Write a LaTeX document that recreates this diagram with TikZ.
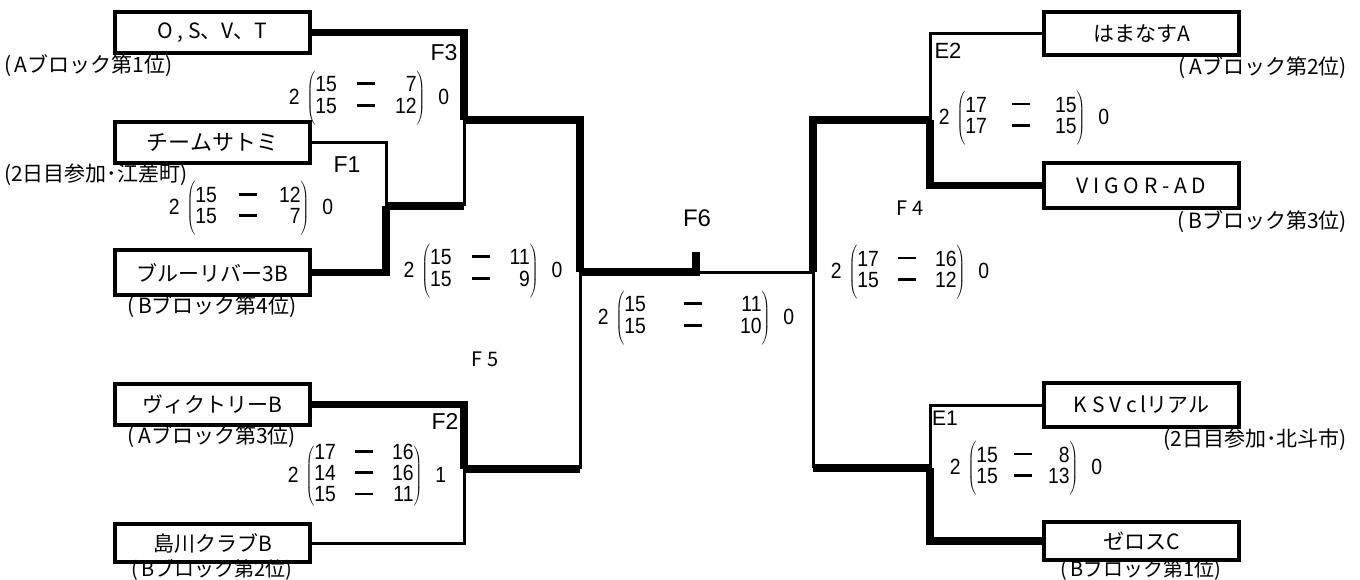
\documentclass[tikz,border=0pt]{standalone}
\usepackage{fontspec}
\setmainfont{Liberation Sans}
\newfontfamily\jpfont{Noto Sans CJK JP}
\newfontfamily\scorefont[FakeStretch=0.88]{Liberation Sans}
\usetikzlibrary{positioning}
\newcommand{\sdash}{\rule[0.3em]{18pt}{2.8pt}}
\newcommand{\scoreset}[4]{#2\hspace{7pt}{\fontsize{24}{20}\selectfont$\left(\vcenter{\hbox{\fontsize{22}{20}\selectfont\setlength{\tabcolsep}{#1}\begin{tabular}{@{}r c r@{}}#3\end{tabular}}}\vcenter{\hbox{\rule{0pt}{54pt}}}\right)$}\hspace{13pt}#4}
\tikzset{
  teambox/.style={
    rectangle, draw, line width=4pt, minimum width=195pt, minimum height=41pt,
    inner sep=0pt, font=\jpfont\fontsize{21}{24}\selectfont
  },
  blocklabel/.style={font=\jpfont\fontsize{21}{24}\selectfont, inner sep=0pt},
  roundlabel/.style={font=\fontsize{23}{26}\selectfont, inner sep=0pt},
  roundlabelsm/.style={font=\jpfont\fontsize{20}{22}\selectfont, inner sep=0pt},
  scorelabel/.style={font=\scorefont\fontsize{22}{20}\selectfont, inner sep=0pt},
  winline/.style={line width=7.5pt},
  loseline/.style={line width=3pt},
}
\begin{document}
\begin{tikzpicture}[x=1pt, y=-1pt]
    \useasboundingbox (0,0) rectangle (1360,579);
    % teams, left half
    \node[teambox] (osvt) at (212.5,32.5) {O , S、V、T};
    \node[teambox, font=\jpfont\fontsize{22}{24}\selectfont] (satomi) at (212.5,142.5) {チームサトミ};
    \node[teambox, minimum height=45pt] (blue) at (212.5,272.5) {ブルーリバー3B};
    \node[teambox] (victory) at (212.5,404.5) {ヴィクトリーB};
    \node[teambox, minimum height=38pt] (shima) at (212.5,543) {島川クラブB};
    % teams, right half
    \node[teambox, minimum height=43pt] (hamanasu) at (1141.5,33.5) {はまなすA};
    \node[teambox, minimum height=45pt] (vigor) at (1141.5,185.5) {V I G O R - A D};
    \node[teambox, minimum height=44pt] (ksv) at (1141.5,405) {K S V c\,lリアル};
    \node[teambox, minimum height=38pt] (zeros) at (1141.5,541) {ゼロスC};
    % block places
    \node[blocklabel, anchor=west] (osvtpl) at (4,66) {(\,Aブロック第1位)};
    \node[blocklabel, anchor=west] (satomipl) at (4,175) {(2日目参加･江差町)};
    \node[blocklabel] (bluepl) at (212,307) {(\,Bブロック第4位)};
    \node[blocklabel] (victorypl) at (212,437) {(\,Aブロック第3位)};
    \node[blocklabel, font=\jpfont\fontsize{20}{22}\selectfont] (shimapl) at (212,570) {(\,Bブロック第2位)};
    \node[blocklabel, anchor=east] (hamanasupl) at (1347,68) {(\,Aブロック第2位)};
    \node[blocklabel, anchor=east] (vigorpl) at (1347,222) {(\,Bブロック第3位)};
    \node[blocklabel, anchor=east] (ksvpl) at (1347,440) {(2日目参加･北斗市)};
    \node[blocklabel, font=\jpfont\fontsize{20}{22}\selectfont] (zerospl) at (1141,570) {(\,Bブロック第1位)};
    % junctions
    \coordinate (f1) at (386,206);
    \coordinate (f3) at (464,120);
    \coordinate (f2) at (464,469);
    \coordinate (f5) at (580,272);
    \coordinate (f6) at (696,272);
    \coordinate (f6top) at (696,252);
    \coordinate (f4) at (813,272);
    \coordinate (e2) at (930,120);
    \coordinate (e1) at (930,468);
    % left bracket
    \draw[loseline] (satomi.east) -| (f1);
    \draw[winline] (blue.east) -| (f1);
    \draw[winline] (f1) -- (f1 -| f3);
    \draw[loseline] (f1 -| f3) -- (f3);
    \draw[winline] (osvt.east) -| (f3);
    \draw[winline] (f3) -| (f5);
    \draw[winline] (victory.east) -| (f2);
    \draw[loseline] (shima.east) -| (f2);
    \draw[winline] (f2) -- (f2 -| f5);
    \draw[loseline] (f2 -| f5) -- (f5);
    \draw[winline] (f5) -- (f6) -- (f6top);
    % right bracket
    \draw[loseline] (f6) -- (f4);
    \draw[loseline] (hamanasu.west) -| (e2);
    \draw[winline] (vigor.west) -| (e2);
    \draw[winline] (e2) -| (f4);
    \draw[loseline] (ksv.west) -| (e1);
    \draw[winline] (zeros.west) -| (e1);
    \draw[winline] (e1) -- (e1 -| f4);
    \draw[loseline] (e1 -| f4) -- (f4);
    % round names
    \node[roundlabel] (f3lbl) at (444,53) {F3};
    \node[roundlabel] (f1lbl) at (347,165) {F1};
    \node[roundlabel] (f2lbl) at (445,421) {F2};
    \node[roundlabel, font=\fontsize{24}{26}\selectfont] (f6lbl) at (697,218) {F6};
    \node[roundlabelsm] (f5lbl) at (485,359) {F 5};
    \node[roundlabelsm] (f4lbl) at (910,208) {F 4};
    \node[roundlabel, font=\fontsize{22}{24}\selectfont] (e2lbl) at (948,51) {E2};
    \node[roundlabel, font=\fontsize{21}{24}\selectfont] (e1lbl) at (945,418) {E1};
    % scores
    \node[scorelabel] (f3sc) at (369,98) {\scoreset{10pt}{2}{15 & \sdash & 7\\ 15 & \sdash & 12}{0}};
    \node[scorelabel] (f1sc) at (251,208) {\scoreset{11pt}{2}{15 & \sdash & 12\\ 15 & \sdash & 7}{0}};
    \node[scorelabel] (f2sc) at (367,476) {\scoreset{9.5pt}{2}{17 & \sdash & 16\\ 14 & \sdash & 16\\ 15 & \sdash & 11}{1}};
    \node[scorelabel] (f5sc) at (483,271) {\scoreset{10pt}{2}{15 & \sdash & 11\\ 15 & \sdash & 9}{0}};
    \node[scorelabel] (f6sc) at (696,318) {\scoreset{19pt}{2}{15 & \sdash & 11\\ 15 & \sdash & 10}{0}};
    \node[scorelabel] (f4sc) at (910,272) {\scoreset{9.5pt}{2}{17 & \sdash & 16\\ 15 & \sdash & 12}{0}};
    \node[scorelabel] (e2sc) at (1024,118) {\scoreset{12.5pt}{2}{17 & \sdash & 15\\ 17 & \sdash & 15}{0}};
    \node[scorelabel] (e1sc) at (1026,468) {\scoreset{8pt}{2}{15 & \sdash & 8\\ 15 & \sdash & 13}{0}};
  \end{tikzpicture}
\end{document}
